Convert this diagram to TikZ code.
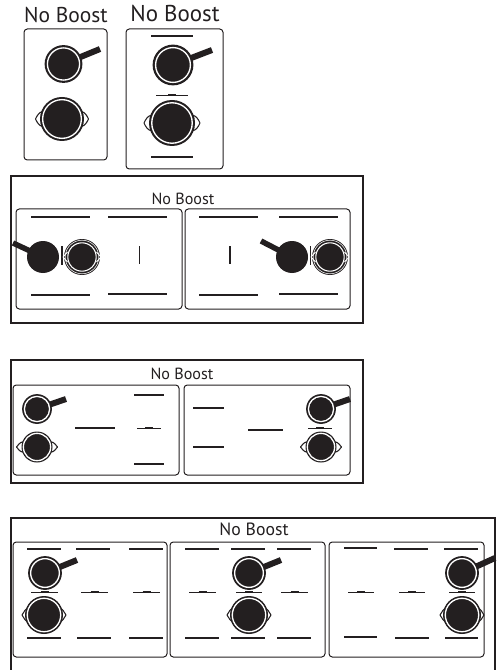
\documentclass[tikz,border=0pt]{standalone}
\usepackage{fontspec}
\setmainfont{PT Sans}
\definecolor{inkblack}{RGB}{35,31,32}
\tikzset{
  outerframe/.style={draw=inkblack,line width=2.2pt},
  panel/.style={draw=inkblack,line width=0.75pt,rounded corners=2.5pt},
  burner/.style={draw=inkblack,line width=0.85pt},
  boostlabel/.style={text=inkblack,inner sep=0pt,anchor=center},
}
% #1 centre, #2 radius, #3 handle end
\newcommand{\panicon}[3]{
  \draw[inkblack,line width=4.5pt] (#1) -- (#3);
  \fill[inkblack] (#1) circle[radius=#2+0.4];
  \draw[white,line width=1pt] (#1) circle[radius=0.87*#2];
}
% #1 centre, #2 radius, #3 ear reach
\newcommand{\poticon}[3]{
  \begin{scope}[shift={(#1)}]
    \draw[inkblack,line width=0.8pt,fill=white,line join=round] (-0.9*#2,-0.33*#2) .. controls (-#3+4,-0.33*#2) and (-#3+1.5,-0.15*#2) .. (-#3,0) .. controls (-#3+1.5,0.15*#2) and (-#3+4,0.33*#2) .. (-0.9*#2,0.33*#2) -- cycle;
    \draw[inkblack,line width=0.8pt,fill=white,line join=round] (0.9*#2,-0.33*#2) .. controls (#3-4,-0.33*#2) and (#3-1.5,-0.15*#2) .. (#3,0) .. controls (#3-1.5,0.15*#2) and (#3-4,0.33*#2) .. (0.9*#2,0.33*#2) -- cycle;
    \fill[inkblack] (0,0) circle[radius=#2];
    \draw[white,line width=1pt] (0,0) circle[radius=0.88*#2];
  \end{scope}
}
% pot seen tight between the burners
\newcommand{\slimpot}[1]{
  \begin{scope}[shift={(#1)}]
    \fill[inkblack] (0,0) circle[radius=18];
    \draw[white,line width=0.4pt] (0,0) circle[radius=16.8];
    \draw[white,line width=0.8pt] (0,0) circle[radius=14.2];
    \draw[white,line width=0.7pt,line join=round] (-14.5,-5) -- (-19,0) -- (-14.5,5);
    \draw[white,line width=0.7pt,line join=round] (14.5,-5) -- (19,0) -- (14.5,5);
  \end{scope}
}
% #1 left end, #2 right end, #3 height
\newcommand{\midburner}[3]{
  \draw[burner,line width=0.7pt] (#1,#3) -- (#2,#3);
  \draw[inkblack,line width=1.6pt] ({(#1+#2)/2-4},#3-0.4) -- ({(#1+#2)/2+4},#3-0.4);
}
\begin{document}
\begin{tikzpicture}[x=0.75pt,y=-0.75pt]
  \useasboundingbox (0,0) rectangle (499,670);
  % single panels
  \node[boostlabel,font=\fontsize{16.1}{18}\selectfont] (labelone) at (66,15) {No Boost};
  \node[boostlabel,font=\fontsize{17.2}{20}\selectfont] (labeltwo) at (175,13) {No Boost};
  \draw[panel] (24,29) rectangle (107,160);
  \panicon{63.5,64}{18.5}{100,49}
  \poticon{62,119}{22}{26.5}
  \draw[panel] (126,29) rectangle (223,169);
  \panicon{173,65}{20}{212,50}
  \poticon{172,123}{23}{28}
  \draw[burner] (151,36) -- (193,36) (151,157) -- (193,157);
  \midburner{156}{188}{95}
  % two wide panels
  \draw[outerframe] (11,176) rectangle (363,323);
  \node[boostlabel,font=\fontsize{12.1}{14}\selectfont] (labelthree) at (183,199) {No Boost};
  \draw[panel] (16,209) rectangle (182,309);
  \draw[panel] (185,209) rectangle (350,309);
  \draw[burner] (31,217) -- (90,217) (108,217) -- (167,217) (31,295) -- (90,295) (108,294) -- (167,294);
  \draw[burner] (199,217) -- (258,217) (279,217) -- (338,217) (199,295) -- (258,295) (279,294) -- (338,294);
  \draw[burner] (139.5,246) -- (139.5,264) (62,246) -- (62,265) (230,246) -- (230,264) (310.5,246) -- (310.5,265);
  \draw[inkblack,line width=4.1pt] (43,257) -- (13,243);
  \fill[inkblack] (43,257) circle[radius=16];
  \draw[inkblack,line width=4.1pt] (292,257) -- (261,241);
  \fill[inkblack] (292,257) circle[radius=16];
  \slimpot{82,257}
  \slimpot{330,257}
  % two short panels
  \draw[outerframe] (11,360) rectangle (363,483);
  \node[boostlabel,font=\fontsize{12.1}{14}\selectfont] (labelfour) at (182,374) {No Boost};
  \draw[panel] (13,385) rectangle (179,475);
  \draw[panel] (184,385) rectangle (350,475);
  \panicon{37,409}{14.5}{66,399}
  \poticon{37,447}{15.5}{20.5}
  \panicon{321,409}{14.5}{350,399}
  \poticon{321,447}{15.5}{20.5}
  \draw[burner] (75,428) -- (115,428) (134,395) -- (164,395) (134,464) -- (164,464);
  \midburner{137}{161}{428}
  \draw[burner] (193,408) -- (224,408) (193,447) -- (224,447) (248,430) -- (283,430);
  \midburner{308}{332}{428}
  % three panels, open at the foot
  \draw[outerframe] (11,670) -- (11,518) -- (495,518) -- (495,670);
  \node[boostlabel,font=\fontsize{13.3}{15}\selectfont] (labelfive) at (254,529) {No Boost};
  \draw[panel] (13,542) rectangle (167,657);
  \draw[panel] (170,542) rectangle (325,657);
  \draw[panel] (329,542) rectangle (484,657);
  \panicon{45,573}{16.5}{77,560}
  \poticon{44,615}{19}{22}
  \panicon{249,573}{16.5}{281,560}
  \poticon{249,615}{19}{22}
  \panicon{462,573}{16.5}{495,558}
  \poticon{462,615}{19}{22}
  \draw[burner] (27,549) -- (61,549) (76,549) -- (110,549) (129,549) -- (163,549);
  \draw[burner] (27,638) -- (61,638) (77,638) -- (111,638) (129,638) -- (163,638);
  \draw[burner] (185,549) -- (219,549) (231,549) -- (265,549) (277,549) -- (311,549);
  \draw[burner] (185,638) -- (219,638) (231,638) -- (265,638) (277,638) -- (311,638);
  \draw[burner] (344,548) -- (377,548) (394,549) -- (428,549) (444,549) -- (478,549);
  \draw[burner] (344,637) -- (377,637) (395,638) -- (429,638) (445,638) -- (478,638);
  \midburner{31}{58}{592}
  \midburner{81}{108}{592}
  \midburner{133}{160}{592}
  \midburner{189}{216}{592}
  \midburner{236}{262}{592}
  \midburner{281}{308}{592}
  \midburner{348}{374}{592}
  \midburner{399}{425}{592}
  \midburner{449}{475}{592}
\end{tikzpicture}
\end{document}
